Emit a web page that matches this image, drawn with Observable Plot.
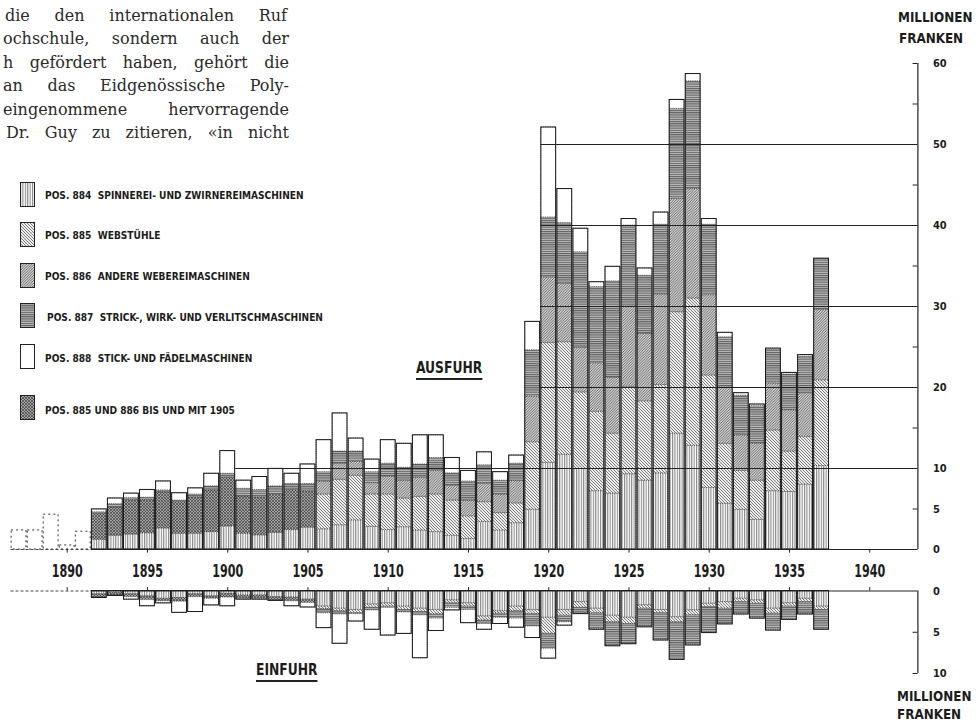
<!DOCTYPE html>
<html><head><meta charset="utf-8">
<script src="https://cdn.jsdelivr.net/npm/d3@7"></script>
<script src="https://cdn.jsdelivr.net/npm/@observablehq/plot@0.6"></script>
<style>
body{margin:0;background:#fff;}
#page{position:relative;width:979px;height:724px;overflow:hidden;background:#fff;}
.cond{font-family:"DejaVu Sans Condensed","Liberation Sans Narrow","Arial Narrow",sans-serif;font-weight:bold;color:#1c1c1c;transform-origin:0 50%;}
.abs{position:absolute;white-space:nowrap;}
.para{position:absolute;left:3px;width:286px;font-family:"DejaVu Serif",serif;font-size:16px;line-height:20px;text-align:justify;text-align-last:justify;color:#2a2a2a;white-space:nowrap;}
.leg{position:absolute;left:45px;font-size:10.5px;line-height:12px;letter-spacing:0;white-space:nowrap;transform:scaleX(0.96);}
.sw{position:absolute;left:20px;width:15px;height:25px;}
.ul{border-bottom:2px solid #222;padding-bottom:1px;}
.big{font-size:16.5px;line-height:18px;transform:scaleX(0.83);}
.unit{font-size:14px;line-height:16px;transform:scaleX(0.95);}
#up,#lo{position:absolute;left:0;}
#up{top:0;} #lo{top:585px;}
</style></head>
<body>
<svg width="0" height="0" style="position:absolute">
<defs>
<pattern id="p884" patternUnits="userSpaceOnUse" width="2.4" height="4"><rect width="2.4" height="4" fill="#fff"/><line x1="0.6" y1="0" x2="0.6" y2="4" stroke="#4a4a4a" stroke-width="0.8"/></pattern>
<pattern id="p885" patternUnits="userSpaceOnUse" width="3" height="3"><rect width="3" height="3" fill="#eeeeee"/><path d="M0,0L3,3M-1,2L1,4M2,-1L4,1" stroke="#4a4a4a" stroke-width="0.7"/></pattern>
<pattern id="p886" patternUnits="userSpaceOnUse" width="2.6" height="2.6"><rect width="2.6" height="2.6" fill="#d6d6d6"/><path d="M0,2.6L2.6,0M-1,1L1,-1M1.6,3.6L3.6,1.6" stroke="#3c3c3c" stroke-width="0.75"/></pattern>
<pattern id="p887" patternUnits="userSpaceOnUse" width="4" height="2.2"><rect width="4" height="2.2" fill="#bdbdbd"/><line x1="0" y1="0.6" x2="4" y2="0.6" stroke="#3c3c3c" stroke-width="0.8"/></pattern>
<pattern id="pComb" patternUnits="userSpaceOnUse" width="3" height="3"><rect width="3" height="3" fill="#a4a4a4"/><path d="M0,0L3,3M-1,2L1,4M2,-1L4,1M0,3L3,0M-1,1L1,-1M2,4L4,2" stroke="#333" stroke-width="0.6"/></pattern>
</defs></svg>
<div id="page">
  <div class="para" style="top:6px;left:5px;width:282px">die den internationalen Ruf</div>
  <div class="para" style="top:29px">ochschule, sondern auch der</div>
  <div class="para" style="top:53px">h gefördert haben, gehört die</div>
  <div class="para" style="top:76px">an das Eidgenössische Poly-</div>
  <div class="para" style="top:100px">eingenommene hervorragende</div>
  <div class="para" style="top:123px;left:6px;width:283px">Dr. Guy zu zitieren, «in nicht</div>

  <div id="up"></div>
  <div id="lo"></div>

  <svg class="sw" style="top:182px" viewBox="0 0 15 25"><rect x="0.5" y="0.5" width="14" height="24" fill="url(#p884)" stroke="#222"/></svg>
  <div class="leg cond" style="top:189px">POS. 884&nbsp; SPINNEREI- UND ZWIRNEREIMASCHINEN</div>
  <svg class="sw" style="top:222px" viewBox="0 0 15 25"><rect x="0.5" y="0.5" width="14" height="24" fill="url(#p885)" stroke="#222"/></svg>
  <div class="leg cond" style="top:229px">POS. 885&nbsp; WEBSTÜHLE</div>
  <svg class="sw" style="top:263px" viewBox="0 0 15 25"><rect x="0.5" y="0.5" width="14" height="24" fill="url(#p886)" stroke="#222"/></svg>
  <div class="leg cond" style="top:270px">POS. 886&nbsp; ANDERE WEBEREIMASCHINEN</div>
  <svg class="sw" style="top:303px" viewBox="0 0 15 25"><rect x="0.5" y="0.5" width="14" height="24" fill="url(#p887)" stroke="#222"/></svg>
  <div class="leg cond" style="top:311px;left:47px">POS. 887&nbsp; STRICK-, WIRK- UND VERLITSCHMASCHINEN</div>
  <svg class="sw" style="top:344px" viewBox="0 0 15 25"><rect x="0.5" y="0.5" width="14" height="24" fill="#fff" stroke="#222"/></svg>
  <div class="leg cond" style="top:352px">POS. 888&nbsp; STICK- UND FÄDELMASCHINEN</div>
  <svg class="sw" style="top:395px" viewBox="0 0 15 25"><rect x="0.5" y="0.5" width="14" height="24" fill="url(#pComb)" stroke="#222"/></svg>
  <div class="leg cond" style="top:404px">POS. 885 UND 886 BIS UND MIT 1905</div>

  <div class="abs cond ul big" style="left:416px;top:359px">AUSFUHR</div>
  <div class="abs cond ul big" style="left:256px;top:661px">EINFUHR</div>

  <div class="abs cond unit" style="left:898px;top:9px">MILLIONEN</div>
  <div class="abs cond unit" style="left:899px;top:30px">FRANKEN</div>
  <div class="abs cond unit" style="left:897px;top:688px">MILLIONEN</div>
  <div class="abs cond unit" style="left:897px;top:706px">FRANKEN</div>
</div>
<script>
// ---------------- DATA (Mio. Fr.) ----------------
const years = [1892,1893,1894,1895,1896,1897,1898,1899,1900,1901,1902,1903,1904,1905,
  1906,1907,1908,1909,1910,1911,1912,1913,1914,1915,1916,1917,1918,1919,
  1920,1921,1922,1923,1924,1925,1926,1927,1928,1929,1930,1931,1932,1933,1934,1935,1936,1937];

// Ausfuhr (export), segment amounts
const ex884  = [1.2,1.7,1.85,2.0,2.6,1.95,1.95,2.15,2.85,1.95,1.75,2.05,2.4,2.7,
  2.5,3.0,3.6,2.8,2.4,2.75,2.35,2.15,1.7,1.3,3.4,2.35,3.25,4.9,
  10.7,11.7,9.95,7.2,6.9,9.3,8.5,9.4,14.3,12.8,7.6,5.65,4.9,3.65,7.2,7.1,8.0,10.3];
const exComb = [3.2,3.5,4.25,4.1,4.45,3.9,4.5,5.15,6.0,4.6,4.7,4.8,4.95,4.5,
  0,0,0,0,0,0,0,0,0,0,0,0,0,0, 0,0,0,0,0,0,0,0,0,0,0,0,0,0,0,0,0,0];
const ex885  = [0,0,0,0,0,0,0,0,0,0,0,0,0,0,
  4.3,5.6,5.5,4.0,4.4,3.55,4.15,4.65,4.35,2.8,2.45,2.15,2.45,8.35,
  14.8,13.9,9.45,9.8,7.4,10.8,9.8,10.9,15.0,18.2,13.9,7.4,4.8,4.85,7.5,5.0,5.9,10.6];
const ex886  = [0,0,0,0,0,0,0,0,0,0,0,0,0,0,
  1.6,2.0,1.7,1.4,2.2,2.2,2.35,2.9,1.85,1.9,2.25,2.3,2.75,5.65,
  8.1,7.2,5.5,6.0,6.9,9.9,8.3,11.2,14.0,13.5,9.9,6.95,4.4,4.6,5.8,5.1,5.4,8.7];
const ex887  = [0.2,0.4,0.25,0.3,0.25,0.2,0.35,0.5,0.5,0.95,0.9,0.95,0.75,0.9,
  1.15,1.5,1.3,1.35,1.6,1.6,1.65,1.6,1.5,2.4,2.3,1.7,2.15,5.7,
  7.4,7.5,11.8,9.4,11.9,10.0,7.2,8.6,11.1,13.3,8.7,6.2,4.9,4.6,4.15,4.4,4.5,6.3];
const ex888  = [0.35,0.7,0.55,0.95,1.1,0.9,0.75,1.55,2.8,1.0,1.6,2.15,1.25,2.4,
  3.95,4.7,1.6,1.55,2.9,2.95,3.6,2.8,1.9,1.3,1.6,1.05,1.0,3.5,
  11.1,4.2,2.9,0.6,1.8,0.8,0.9,1.5,1.1,0.9,0.7,0.55,0.3,0.2,0.15,0.2,0.2,0];

// Ausfuhr before 1892 (dotted)
const preYears  = [1887,1888,1889,1890,1891];
const preExport = [2.35,2.35,4.3,0.5,2.2];

// Einfuhr (import), segment amounts
const im884  = [0.4,0.25,0.4,0.65,0.95,0.85,0.4,0.65,0.35,0.55,0.55,0.75,0.8,1.05,
  1.9,2.15,2.3,1.65,1.5,1.9,2.15,2.3,1.15,1.5,3.1,2.45,1.9,2.3,
  3.25,2.3,1.35,2.15,3.0,3.25,1.75,2.3,3.2,2.35,1.55,1.35,0.95,1.15,2.15,1.5,0.95,1.9];
const imComb = [0.4,0.3,0.35,0.45,0.3,0.45,0.35,0.3,0.45,0.4,0.4,0.4,0.45,0.4,
  0,0,0,0,0,0,0,0,0,0,0,0,0,0, 0,0,0,0,0,0,0,0,0,0,0,0,0,0,0,0,0,0];
const im885  = [0,0,0,0,0,0,0,0,0,0,0,0,0,0,
  0.3,0.3,0.4,0.4,0.4,0.4,0.4,0.55,0.35,0.4,0.5,0.3,0.55,0.5,
  1.95,0.7,0.7,0.55,0.8,0.75,0.4,0.4,0.6,0.6,0.4,0.8,0.4,0.4,0.6,0.4,0.4,0.4];
const im887  = [0,0,0,0,0,0,0,0,0,0,0,0,0,0,
  0.5,0.4,0.1,0.3,0.15,0.3,0.4,0.5,0.55,0.4,0.4,0.5,0.9,1.5,
  1.8,0.8,0.65,1.9,2.8,2.35,2.15,3.2,4.45,3.55,3.05,1.8,1.4,1.7,1.95,1.5,1.4,2.3];
const im888  = [0.05,0.05,0.3,0.75,0.25,1.35,1.8,0.8,1.05,0.1,0.1,0.05,0.6,0.55,
  1.8,3.55,0.9,2.35,3.35,2.6,5.2,1.5,0.3,1.6,0.7,0.75,1.1,1.4,
  1.2,0.4,0.1,0.1,0.1,0.1,0.1,0.1,0.1,0.1,0.1,0.1,0.1,0.1,0.1,0.1,0.1,0.1];

// Axes / labels
const yearTicks   = [1890,1895,1900,1905,1910,1915,1920,1925,1930,1935,1940];
const upTicks     = [0,5,10,15,20,25,30,35,40,45,50,55,60];
const upLabels    = [0,5,10,20,30,40,50,60];
const loTicks     = [5,10];
const loLabels    = [0,5,10];
const grid10      = [10];
const gridHigh    = [20,30,40,50];

// Series keys & fills (stack order bottom → top)
const seriesKeys  = ["884","comb","885","886","887","888"];
const seriesFills = ["url(#p884)","url(#pComb)","url(#p885)","url(#p886)","url(#p887)","#ffffff"];

// ---------------- BUILD ----------------
const FONT = "DejaVu Sans Condensed, Liberation Sans Narrow, Arial Narrow, sans-serif";
const X0 = 1886, X1 = 1943;
function rows(pairs){
  return pairs.flatMap(([s, arr]) => arr.map((v, i) => ({year: years[i], series: s, value: v}))).filter(d => d.value > 0);
}
function totals(arrs){
  return years.map((y, i) => ({year: y, total: d3.sum(arrs, a => a[i])}));
}
const exRows = rows([["884",ex884],["comb",exComb],["885",ex885],["886",ex886],["887",ex887],["888",ex888]]);
const imRows = rows([["884",im884],["comb",imComb],["885",im885],["887",im887],["888",im888]]);
const exTot = totals([ex884,exComb,ex885,ex886,ex887,ex888]);
const imTot = totals([im884,imComb,im885,im887,im888]);
const pre = preYears.map((y,i) => ({year: y, value: preExport[i]}));

function barMarks(data, tot){
  return [
    Plot.rect(data, Plot.stackY({
      x: "year", x1: d => d.year - 0.5, x2: d => d.year + 0.5, y: "value",
      z: "series", order: seriesKeys, fill: "series",
      stroke: "#2a2a2a", strokeWidth: 0.6, strokeDasharray: "1.2,1",
      insetLeft: 0.6, insetRight: 0.6
    })),
    Plot.rect(tot, {x1: d => d.year - 0.5, x2: d => d.year + 0.5, y1: 0, y2: "total",
      fill: "none", stroke: "#1a1a1a", strokeWidth: 1, insetLeft: 0.6, insetRight: 0.6})
  ];
}

const upper = Plot.plot({
  width: 979, height: 585, marginLeft: 2.5, marginRight: 61.6, marginTop: 63, marginBottom: 36,
  x: {domain: [X0, X1], axis: null},
  y: {domain: [0, 60], axis: null},
  color: {domain: seriesKeys, range: seriesFills},
  style: {background: "transparent", overflow: "visible"},
  marks: [
    Plot.rect(pre, {x1: d => d.year - 0.5, x2: d => d.year + 0.5, y1: 0, y2: "value",
      fill: "none", stroke: "#333", strokeWidth: 1, strokeDasharray: "2,3", insetLeft: 0.6, insetRight: 0.6}),
    ...barMarks(exRows, exTot),
    Plot.ruleY(grid10, {y: d => d, x1: 1900.5, x2: X1, stroke: "#222", strokeWidth: 1}),
    Plot.ruleY(gridHigh, {y: d => d, x1: 1919.5, x2: X1, stroke: "#222", strokeWidth: 1}),
    Plot.ruleY([0], {x1: 1891.5, x2: X1, stroke: "#222", strokeWidth: 1.2}),
    Plot.ruleY([0], {x1: 1886.5, x2: 1891.5, stroke: "#444", strokeWidth: 1, strokeDasharray: "3,2"}),
    Plot.ruleX([X1], {y1: 0, y2: 60, stroke: "#222", strokeWidth: 1.2}),
    Plot.ruleY(upTicks, {y: d => d, x1: X1 - 0.3, x2: X1, stroke: "#222", strokeWidth: 1}),
    Plot.text(upLabels, {x: X1, y: d => d, dx: 15, text: d => String(d), textAnchor: "start",
      fontFamily: FONT, fontWeight: "bold", fontSize: 11, fill: "#1c1c1c"}),
    Plot.ruleX(yearTicks, {x: d => d, y1: 0, y2: -0.45, stroke: "#222", strokeWidth: 1}),
    Plot.text(yearTicks, {x: d => d, y: 0, dy: 22, text: d => String(d),
      fontFamily: FONT, fontWeight: "bold", fontSize: 17, fill: "#1c1c1c"})
  ]
});
// condense the year labels to the narrow print face
d3.select(upper).selectAll("text").each(function(){
  if (/^1[89]\d\d$/.test(this.textContent)) {
    this.setAttribute("textLength", 31);
    this.setAttribute("lengthAdjust", "spacingAndGlyphs");
  }
});
document.getElementById("up").appendChild(upper);

const lower = Plot.plot({
  width: 979, height: 139, marginLeft: 2.5, marginRight: 61.6,
  x: {domain: [X0, X1], axis: null},
  y: {domain: [0, 10], range: [5.5, 88], axis: null},
  color: {domain: seriesKeys, range: seriesFills},
  style: {background: "transparent", overflow: "visible"},
  marks: [
    ...barMarks(imRows, imTot),
    Plot.ruleY([0], {x1: 1891.5, x2: X1, stroke: "#222", strokeWidth: 1.2}),
    Plot.ruleY([0], {x1: 1886.5, x2: 1891.5, stroke: "#444", strokeWidth: 1, strokeDasharray: "3,2"}),
    Plot.ruleX([X1], {y1: 0, y2: 10, stroke: "#222", strokeWidth: 1.2}),
    Plot.ruleY(loTicks, {y: d => d, x1: X1 - 0.3, x2: X1, stroke: "#222", strokeWidth: 1}),
    Plot.text(loLabels, {x: X1, y: d => d, dx: 15, text: d => String(d), textAnchor: "start",
      fontFamily: FONT, fontWeight: "bold", fontSize: 11, fill: "#1c1c1c"}),
    Plot.ruleX(yearTicks, {x: d => d, y1: 0, y2: -0.4, stroke: "#222", strokeWidth: 1})
  ]
});
document.getElementById("lo").appendChild(lower);
</script>
</body></html>
